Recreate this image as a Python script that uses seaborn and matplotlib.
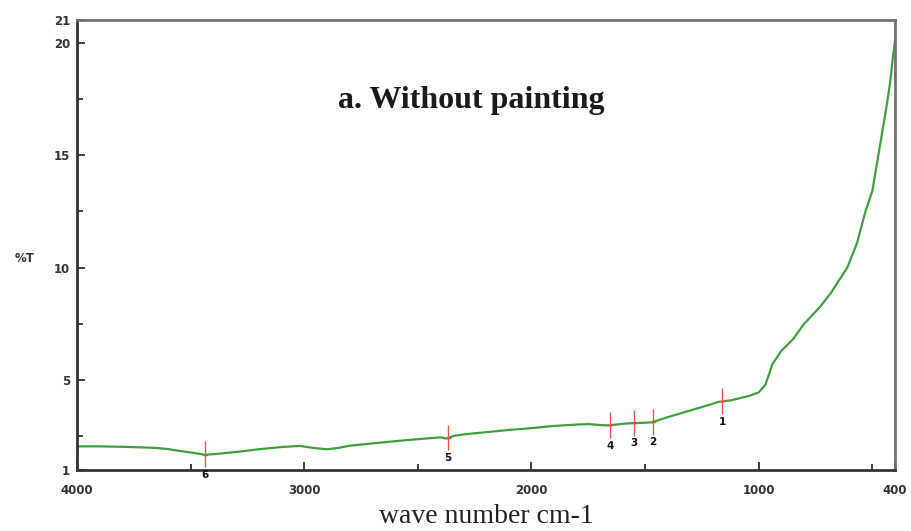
import matplotlib
matplotlib.use("Agg")
import matplotlib.pyplot as plt
import seaborn as sns
import pandas as pd
from matplotlib.ticker import FixedLocator

# IR transmission spectrum (wavenumber in cm-1, transmittance in %T)
wavenumber = [4000, 3900, 3800, 3700, 3650, 3600, 3550, 3500, 3440, 3400,
              3300, 3200, 3100, 3020, 2960, 2900, 2850, 2800, 2700, 2600,
              2500, 2400, 2375, 2340, 2300, 2200, 2100, 2000, 1900, 1800,
              1750, 1700, 1660, 1600, 1560, 1500, 1470, 1400, 1300, 1200,
              1180, 1120, 1080, 1040, 1000, 970, 940, 900, 850, 800,
              730, 680, 655, 610, 567, 530, 500, 460, 440, 422, 410, 400]
transmittance = [2.05, 2.05, 2.03, 2.00, 1.98, 1.93, 1.85, 1.78, 1.68, 1.70,
                 1.80, 1.92, 2.02, 2.07, 1.98, 1.92, 1.98, 2.08, 2.18, 2.28,
                 2.37, 2.45, 2.40, 2.52, 2.58, 2.68, 2.78, 2.86, 2.96, 3.02,
                 3.04, 3.00, 2.98, 3.05, 3.08, 3.10, 3.12, 3.35, 3.65, 3.95,
                 4.02, 4.10, 4.20, 4.30, 4.45, 4.80, 5.70, 6.30, 6.80, 7.50,
                 8.25, 8.90, 9.30, 10.0, 11.1, 12.5, 13.4, 15.8, 17.0, 18.2,
                 19.3, 20.1]

# Picked peaks
peak_labels = ["1", "2", "3", "4", "5", "6"]
peak_wavenumber = [1161, 1465, 1549, 1654, 2367, 3437]
peak_value = [4.05, 3.12, 3.08, 2.98, 2.42, 1.68]

x_major = [4000, 3000, 2000, 1000, 400]
x_minor = [3500, 2500, 1500, 500]
y_major = [1, 5, 10, 15, 20, 21]
y_minor = [2.5, 7.5, 12.5, 17.5]

sns.set_style("white")
plt.rcParams["font.family"] = ["DejaVu Sans"]

fig = plt.figure(figsize=(9.11, 5.31), dpi=100)
ax = fig.add_axes([0.0845, 0.1149, 0.898, 0.8474])

df = pd.DataFrame({"wavenumber": wavenumber, "T": transmittance})
sns.lineplot(data=df, x="wavenumber", y="T", ax=ax, color="#3f9f3f",
             linewidth=1.6, sort=False)

# Peak markers
for lab, wn, val in zip(peak_labels, peak_wavenumber, peak_value):
    ax.vlines(wn, val - 0.55, val + 0.6, color="#e8584a", linewidth=1.0, zorder=3)
    ax.hlines(val, wn - 12, wn + 12, color="#e8584a", linewidth=1.0, zorder=3)
    ax.annotate(lab, (wn, val - 0.55), xytext=(0, -2), textcoords="offset points",
                ha="center", va="top", fontsize=7.5, fontweight="bold",
                color="#111111")

ax.set_xlim(4000, 400)
ax.set_ylim(1, 21)
ax.xaxis.set_major_locator(FixedLocator(x_major))
ax.xaxis.set_minor_locator(FixedLocator(x_minor))
ax.yaxis.set_major_locator(FixedLocator(y_major))
ax.yaxis.set_minor_locator(FixedLocator(y_minor))
ax.set_xticklabels([str(v) for v in x_major])
ax.set_yticklabels([str(v) for v in y_major])
for t in ax.get_xticklabels() + ax.get_yticklabels():
    t.set_fontweight("bold")

ax.tick_params(axis="both", which="major", direction="in", length=6, width=1.3,
               color="#333333", labelsize=8.5, labelcolor="#333333")
ax.tick_params(axis="both", which="minor", direction="in", length=4, width=1.3,
               color="#333333")
ax.tick_params(axis="x", which="both", bottom=True, top=False)
ax.tick_params(axis="y", which="both", left=True, right=False)
ax.tick_params(axis="x", which="major", pad=10)
ax.tick_params(axis="y", which="major", pad=5)

for side in ["left", "bottom"]:
    ax.spines[side].set_color("#333333")
    ax.spines[side].set_linewidth(2.0)
for side in ["top", "right"]:
    ax.spines[side].set_color("#707070")
    ax.spines[side].set_linewidth(2.0)

ax.set_xlabel("wave number cm-1", fontsize=20, family="Liberation Serif",
              color="#222222", labelpad=5)
ax.set_ylabel("")
fig.text(0.016, 0.514, "%T", fontsize=8.5, fontweight="bold", color="#333333",
         ha="left", va="center")

ax.text(0.482, 0.822, "a. Without painting", transform=ax.transAxes,
        fontsize=23, fontweight="bold", family="Liberation Serif",
        color="#1a1a1a", ha="center", va="center")

fig.savefig("out.png", dpi=100)
